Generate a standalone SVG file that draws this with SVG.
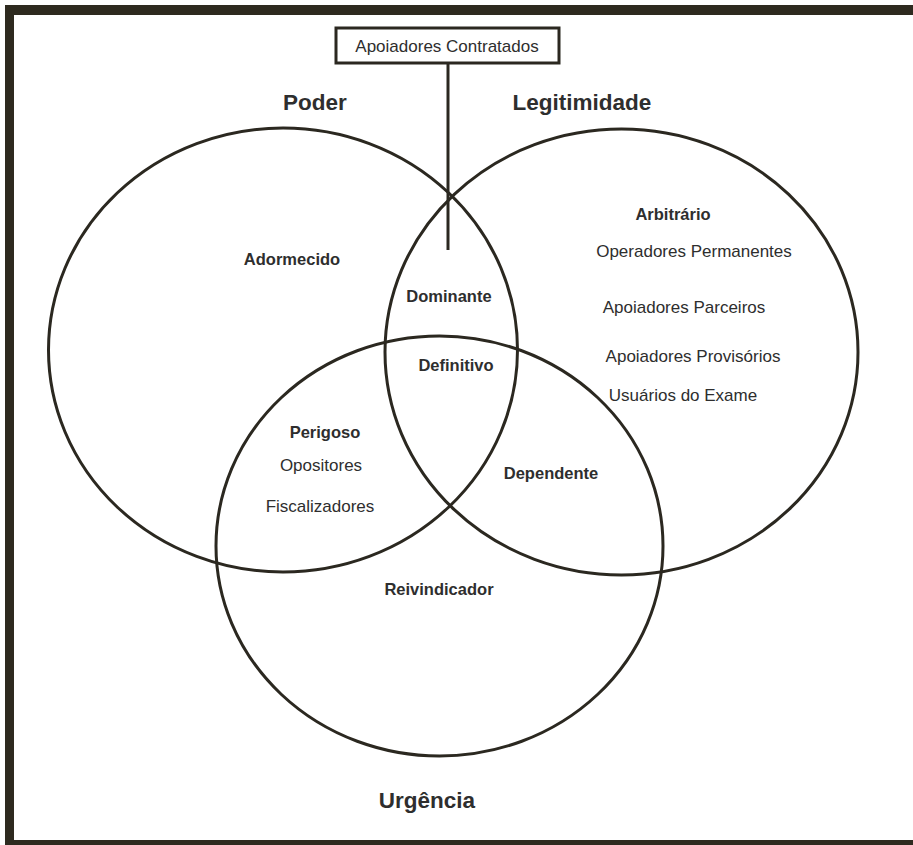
<svg xmlns="http://www.w3.org/2000/svg" width="913" height="845" viewBox="0 0 913 845">
  <style>
    .ring { fill: none; stroke: #2b2820; stroke-width: 3; }
    .box { fill: #ffffff; stroke: #2b2820; stroke-width: 3; }
    .conn { stroke: #2b2820; stroke-width: 3; fill: none; }
    text { font-family: "Liberation Sans", Arial, sans-serif; fill: #2e2e2e; text-anchor: middle; }
    .t { font-size: 22.5px; font-weight: bold; }
    .b { font-size: 16.5px; font-weight: bold; }
    .n { font-size: 17px; }
  </style>
  <rect x="0" y="0" width="913" height="845" fill="#ffffff"/>
  <g id="frame">
    <path d="M5,5 H913 V15 H14 V840 H913 V850 H5 Z" fill="#2e2a1f"/>
  </g>
  <g id="poder">
    <ellipse class="ring" cx="283" cy="350" rx="234.5" ry="222"/>
    <text class="t" x="315" y="110">Poder</text>
    <text class="b" x="292" y="265">Adormecido</text>
  </g>
  <g id="legitimidade">
    <ellipse class="ring" cx="621.5" cy="352" rx="236.5" ry="223"/>
    <text class="t" x="582" y="110">Legitimidade</text>
    <text class="b" x="673" y="220">Arbitrário</text>
    <text class="n" x="694" y="257">Operadores Permanentes</text>
    <text class="n" x="684" y="313">Apoiadores Parceiros</text>
    <text class="n" x="693" y="362">Apoiadores Provisórios</text>
    <text class="n" x="683" y="401">Usuários do Exame</text>
  </g>
  <g id="urgencia">
    <ellipse class="ring" cx="439.5" cy="546" rx="223.5" ry="210"/>
    <text class="t" x="427" y="808">Urgência</text>
    <text class="b" x="439" y="595">Reivindicador</text>
  </g>
  <g id="intersecoes">
    <text class="b" x="449" y="302">Dominante</text>
    <text class="b" x="456" y="371">Definitivo</text>
    <text class="b" x="325" y="438">Perigoso</text>
    <text class="n" x="321" y="471">Opositores</text>
    <text class="n" x="320" y="512">Fiscalizadores</text>
    <text class="b" x="551" y="479">Dependente</text>
  </g>
  <g id="apoiadores-contratados">
    <rect class="box" x="336" y="28" width="223" height="35"/>
    <text class="n" x="447" y="52">Apoiadores Contratados</text>
  </g>
  <g id="connectors">
    <line class="conn" x1="448" y1="63" x2="448" y2="250"/>
  </g>
</svg>
